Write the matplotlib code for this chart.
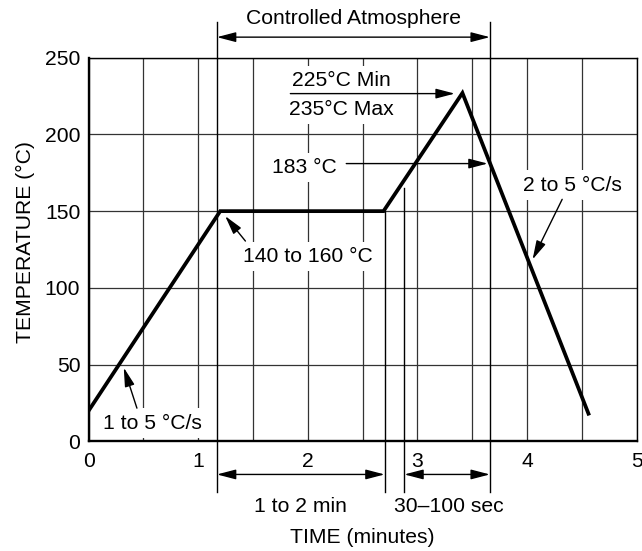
import numpy as np
import matplotlib.pyplot as plt
from matplotlib.ticker import MultipleLocator

plt.rcParams['font.family'] = ['Liberation Sans', 'DejaVu Sans']
plt.rcParams['font.size'] = 15.2

# reflow profile (time in minutes, temperature in °C)
profile_t = [0, 1.20, 2.69, 3.41, 4.56]
profile_T = [20, 150, 150, 227, 18]

# marker lines: x, y from, y to
marker_lines = [(1.17, -33, 273), (3.66, -33, 273), (2.70, -33, 150), (2.88, -33, 165)]

# double arrows (spans)
span_x0 = [1.17, 1.17, 2.88]
span_x1 = [3.66, 2.70, 3.66]
span_y = [263.4, -21.6, -21.6]

# labels: text, x, y
labels = [
    ('225°C Min', 2.31, 235),
    ('235°C Max', 2.31, 216.5),
    ('183 °C', 1.97, 178.5),
    ('2 to 5 °C/s', 4.41, 167),
    ('140 to 160 °C', 2.0, 120.5),
    ('1 to 5 °C/s', 0.58, 11.8),
]
# pointers: tail, tip
pointers = [
    ((1.84, 226.6), (3.34, 226.6)),
    ((2.35, 181), (3.64, 181)),
    ((4.32, 157.7), (4.05, 118.5)),
    ((1.43, 130.5), (1.245, 146.8)),
    ((0.44, 21.6), (0.32, 48)),
]

fig = plt.figure(figsize=(6.42, 5.51), dpi=100)
ax = fig.add_axes([0.13816, 0.19909, 0.85358, 0.69619])

ax.set_xlim(0, 5)
ax.set_ylim(0, 250)
ax.set_xticks(range(0, 6))
ax.xaxis.set_minor_locator(MultipleLocator(0.5))
ax.set_yticks(range(0, 251, 50))
ax.grid(True, which='both', color='#333333', lw=0.9, zorder=1)
ax.set_axisbelow(True)
ax.tick_params(which='both', length=0)
ax.tick_params(axis='y', pad=6)
ax.tick_params(axis='x', pad=8)

for side in ['left', 'bottom']:
    ax.spines[side].set_linewidth(1.7)
for side in ['top', 'right']:
    ax.spines[side].set_linewidth(1.0)

ax.plot(profile_t, profile_T, color='black', lw=2.7, zorder=4, solid_joinstyle='miter')

for x, y0, y1 in marker_lines:
    ax.plot([x, x], [y0, y1], color='black', lw=1.0, zorder=2, clip_on=False)

head = '-|>,head_length=1.15,head_width=0.3'
dhead = '<|-|>,head_length=1.15,head_width=0.3'

for x0, x1, y in zip(span_x0, span_x1, span_y):
    ax.annotate('', xy=(x1, y), xytext=(x0, y), annotation_clip=False,
                arrowprops=dict(arrowstyle=dhead, color='black', lw=1.0,
                                shrinkA=0, shrinkB=0, mutation_scale=10))

box = dict(boxstyle='square,pad=0.25', fc='white', ec='none')
for s, x, y in labels:
    ax.text(x, y, s, ha='center', va='center', bbox=box, zorder=3)

for tail, tip in pointers:
    ax.annotate('', xy=tip, xytext=tail,
                arrowprops=dict(arrowstyle=head, color='black', lw=1.0,
                                shrinkA=0, shrinkB=0, mutation_scale=10),
                zorder=5)

ax.text(2.415, 275.5, 'Controlled Atmosphere', ha='center', va='center', clip_on=False)
ax.text(1.93, -42.7, '1 to 2 min', ha='center', va='center', clip_on=False)
ax.text(3.29, -42.7, '30–100 sec', ha='center', va='center', clip_on=False)

ax.set_xlabel('TIME (minutes)', va='center')
ax.xaxis.set_label_coords(0.5, -0.25)
ax.set_ylabel('TEMPERATURE (°C)', va='center')
ax.yaxis.set_label_coords(-0.116, 0.52)

fig.savefig('out.png', dpi=100)
